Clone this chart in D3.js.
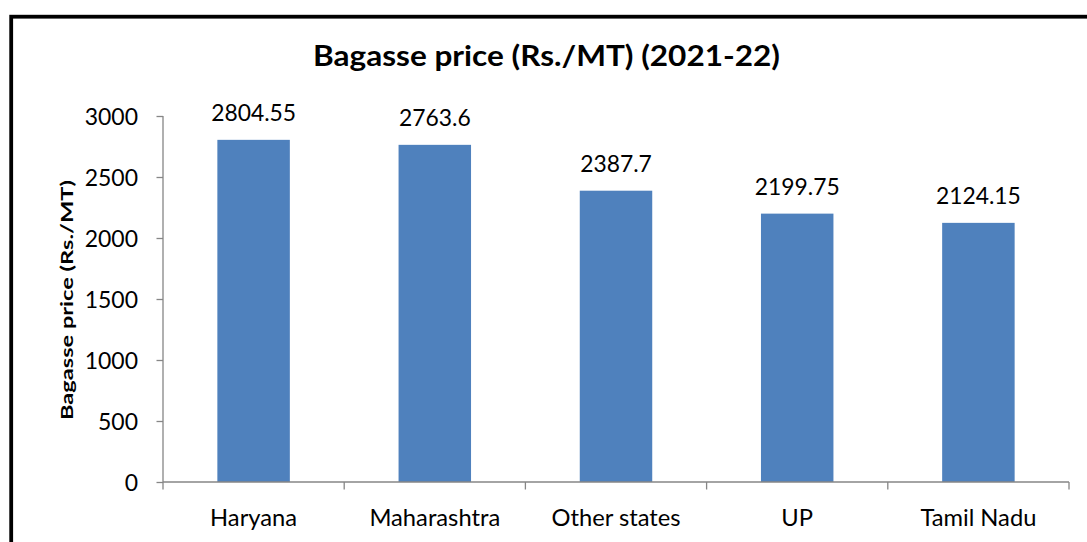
<!DOCTYPE html>
<html><head><meta charset="utf-8">
<script src="https://cdn.jsdelivr.net/npm/d3@7"></script>
<style>html,body{margin:0;padding:0;background:#fff;}svg{display:block;}</style>
</head><body>
<script>
const categories = ["Haryana","Maharashtra","Other states","UP","Tamil Nadu"];
const values = [2804.55, 2763.6, 2387.7, 2199.75, 2124.15];
const valueLabels = ["2804.55","2763.6","2387.7","2199.75","2124.15"];
const yTicks = [0,500,1000,1500,2000,2500,3000];
const titleText = "Bagasse price (Rs./MT) (2021-22)";
const yTitle = "Bagasse price (Rs./MT)";

const W = 1087, H = 542;
const FONT = "Lato, 'Open Sans', sans-serif";
const svg = d3.select("body").append("svg").attr("width", W).attr("height", H);

svg.append("rect").attr("x",11.2).attr("y",16.7).attr("width",1200).attr("height",700)
  .attr("fill","none").attr("stroke","#000").attr("stroke-width",3.8);

const x = d3.scaleBand().domain(categories).range([163,1069]).paddingInner(0.6).paddingOuter(0.3);
const y = d3.scaleLinear().domain([0,3000]).range([482,116]);

// horizontal scale factor so that a reference string at a given size has a given width
function sxFor(str, size, target, weight){
  const t = svg.append("text").attr("font-family",FONT).attr("font-size",size).attr("font-weight",weight||"normal").text(str);
  const w = t.node().getComputedTextLength(); t.remove();
  return target/w;
}
const FS = 22.5;
const sxDigits = sxFor("1500", FS, 53.3);
const sxWords = sxFor("Haryana", FS, 87);
const sxVals = sxFor("2804.55", FS, 85);

// bars
svg.append("g").selectAll("rect").data(values).join("rect")
  .attr("x",(d,i)=>x(categories[i])).attr("width",x.bandwidth())
  .attr("y",d=>y(d)).attr("height",d=>y(0)-y(d)).attr("fill","#4F81BD");

// axes
const axisColor = "#868686";
const yAxis = svg.append("g").attr("transform","translate(163,0)")
  .call(d3.axisLeft(y).tickValues(yTicks).tickSize(6.5).tickPadding(0).tickFormat(d3.format("d")));
const xAxis = svg.append("g").attr("transform","translate(0,482)")
  .call(d3.axisBottom(x).tickSize(0).tickPadding(0).tickFormat(""));
[yAxis,xAxis].forEach(a=>{a.select(".domain").attr("stroke",axisColor).attr("stroke-width",1.3);
  a.selectAll(".tick line").attr("stroke",axisColor).attr("stroke-width",1.3);});
xAxis.select(".domain").attr("d","M163,0H1069");
yAxis.select(".domain").attr("d","M0,"+y(3000)+"V"+y(0));
yAxis.selectAll(".tick text")
  .attr("font-family",FONT).attr("font-size",FS).attr("fill","#000")
  .attr("x",null).attr("dy","0.36em")
  .attr("transform","translate(-25,0) scale("+sxDigits+",1)");

// x boundary ticks
const step = x.step(), gap = step - x.bandwidth();
const bounds = categories.map(c=>x(c)-gap/2).concat([x(categories[4])+x.bandwidth()+gap/2]);
svg.append("g").selectAll("line").data(bounds).join("line")
  .attr("x1",d=>d).attr("x2",d=>d).attr("y1",482).attr("y2",489.5)
  .attr("stroke",axisColor).attr("stroke-width",1.3);

// category labels
svg.append("g").selectAll("text").data(categories).join("text")
  .attr("transform",d=>"translate("+(x(d)+x.bandwidth()/2)+",525.5) scale("+sxWords+",1)")
  .attr("text-anchor","middle")
  .attr("font-family",FONT).attr("font-size",FS).attr("fill","#000").text(d=>d);

// value labels
svg.append("g").selectAll("text").data(values).join("text")
  .attr("transform",(d,i)=>"translate("+(x(categories[i])+x.bandwidth()/2)+","+(y(d)-18.5)+") scale("+sxVals+",1)")
  .attr("text-anchor","middle")
  .attr("font-family",FONT).attr("font-size",FS).attr("fill","#000").text((d,i)=>valueLabels[i]);

// title
const tFS = 29.3;
const sxTitle = sxFor(titleText, tFS, 467, "bold");
svg.append("text").attr("transform","translate(546.5,66) scale("+sxTitle+",1)").attr("text-anchor","middle")
  .attr("font-family",FONT).attr("font-weight","bold").attr("font-size",tFS).attr("fill","#000").text(titleText);

// y title
const yFS = 17.7;
const sxY = sxFor(yTitle, yFS, 240, "bold");
svg.append("text").attr("transform","translate(72.7,300) rotate(-90) scale("+sxY+",1)").attr("text-anchor","middle")
  .attr("font-family",FONT).attr("font-weight","bold").attr("font-size",yFS).attr("fill","#000").text(yTitle);
</script>
</body></html>
